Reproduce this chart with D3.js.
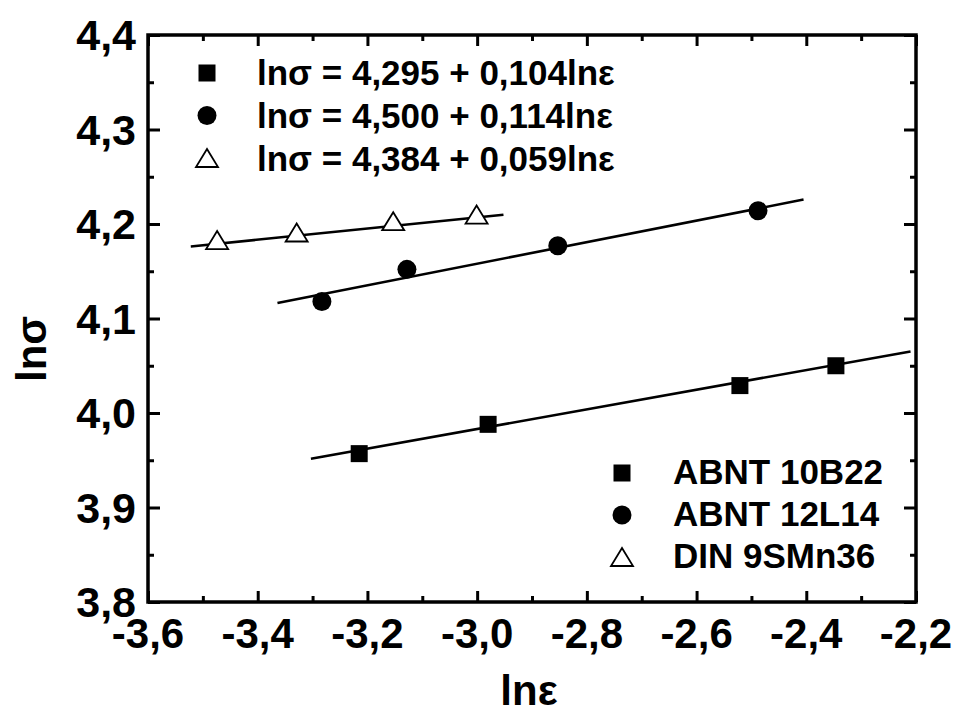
<!DOCTYPE html>
<html lang='en'>
<head>
<meta charset="utf-8">
<style>
body {
  margin: 0;
  background: #fff;
}
text {
  font-family: "Liberation Sans", Arial, sans-serif;
  font-weight: bold;
  fill: #000;
}
.axis path {
  display: none;
}
.axis line {
  stroke: #000;
  stroke-width: 3px;
}
.fit {
  fill: none;
  stroke: #000;
  stroke-width: 2.6px;
}
</style>
</head>
<body>
<svg width="957" height="713"></svg>

<script src="https://cdn.jsdelivr.net/npm/d3@7"></script>
<script>
  // data
  var eps10B22 = [-3.215, -2.980, -2.521, -2.346],
      sig10B22 = [3.957, 3.988, 4.029, 4.050],
      eps12L14 = [-3.283, -3.128, -2.853, -2.488],
      sig12L14 = [4.118, 4.152, 4.177, 4.214],
      eps9SMn36 = [-3.474, -3.329, -3.153, -3.001],
      sig9SMn36 = [4.183, 4.191, 4.203, 4.210];

  // linear fits: lnσ = a + b lnε
  var fitA = [4.295, 4.500, 4.384],
      fitB = [0.104, 0.114, 0.059],
      fitFrom = [-3.303, -3.364, -3.522],
      fitTo = [-2.21, -2.405, -2.952];

  var seriesNames = ["ABNT 10B22", "ABNT 12L14", "DIN 9SMn36"],
      fitLabels = ["lnσ = 4,295 + 0,104lnε", "lnσ = 4,500 + 0,114lnε", "lnσ = 4,384 + 0,059lnε"],
      symbols = ["square", "circle", "triangle"];

  var xMajor = [-3.6, -3.4, -3.2, -3.0, -2.8, -2.6, -2.4, -2.2],
      xMinor = [-3.5, -3.3, -3.1, -2.9, -2.7, -2.5, -2.3],
      yMajor = [3.8, 3.9, 4.0, 4.1, 4.2, 4.3, 4.4],
      yMinor = [3.85, 3.95, 4.05, 4.15, 4.25, 4.35];

  var series = [
    {eps: eps10B22, sig: sig10B22},
    {eps: eps12L14, sig: sig12L14},
    {eps: eps9SMn36, sig: sig9SMn36}
  ];

  var svg = d3.select("svg");
  var x0 = 148, x1 = 916, y0 = 35, y1 = 602;

  var x = d3.scaleLinear().domain([-3.6, -2.2]).range([x0, x1]),
      y = d3.scaleLinear().domain([3.8, 4.4]).range([y1, y0]);

  var fmt = d3.formatLocale({decimal: ",", thousands: ".", grouping: [3], currency: ["", ""], minus: "-"}).format(".1f");

  // ticks pointing inwards on all four sides
  function ticks(axis, vals, size, tr) {
    svg.append("g")
        .attr("class", "axis")
        .attr("transform", tr)
        .call(axis.tickValues(vals).tickSize(size).tickFormat(""));
  }
  ticks(d3.axisBottom(x), xMajor, -11, "translate(0," + y1 + ")");
  ticks(d3.axisBottom(x), xMinor, -6, "translate(0," + y1 + ")");
  ticks(d3.axisTop(x), xMajor, -11, "translate(0," + y0 + ")");
  ticks(d3.axisTop(x), xMinor, -6, "translate(0," + y0 + ")");
  ticks(d3.axisLeft(y), yMajor, -12, "translate(" + x0 + ",0)");
  ticks(d3.axisLeft(y), yMinor, -6, "translate(" + x0 + ",0)");
  ticks(d3.axisRight(y), yMajor, -12, "translate(" + x1 + ",0)");
  ticks(d3.axisRight(y), yMinor, -6, "translate(" + x1 + ",0)");

  svg.append("rect")
      .attr("x", x0).attr("y", y0)
      .attr("width", x1 - x0).attr("height", y1 - y0)
      .attr("fill", "none")
      .attr("stroke", "#000")
      .attr("stroke-width", 3.5);

  // tick labels
  svg.selectAll(".xlab")
    .data(xMajor)
    .enter().append("text")
      .attr("x", function(d) { return x(d); })
      .attr("y", y1 + 46)
      .attr("text-anchor", "middle")
      .style("font-size", "42px")
      .text(fmt);

  svg.selectAll(".ylab")
    .data(yMajor)
    .enter().append("text")
      .attr("x", x0 - 12)
      .attr("y", function(d) { return y(d) + 15; })
      .attr("text-anchor", "end")
      .style("font-size", "43px")
      .text(fmt);

  // axis titles
  svg.append("text")
      .attr("x", 529)
      .attr("y", 705)
      .attr("text-anchor", "middle")
      .style("font-size", "42px")
      .text("lnε");

  svg.append("text")
      .attr("transform", "translate(46,349) rotate(-90)")
      .attr("text-anchor", "middle")
      .style("font-size", "42px")
      .text("lnσ");

  // fit lines
  var line = d3.line()
      .x(function(d) { return x(d[0]); })
      .y(function(d) { return y(d[1]); });

  svg.selectAll(".fit")
    .data(fitA.map(function(a, i) {
      return [[fitFrom[i], a + fitB[i] * fitFrom[i]], [fitTo[i], a + fitB[i] * fitTo[i]]];
    }))
    .enter().append("path")
      .attr("class", "fit")
      .attr("d", line);

  function marker(g, kind) {
    if (kind == "square") {
      g.append("rect").attr("x", -8.5).attr("y", -8.5).attr("width", 17).attr("height", 17).attr("fill", "#000");
    } else if (kind == "circle") {
      g.append("circle").attr("r", 9.5).attr("fill", "#000");
    } else {
      g.append("path").attr("d", "M0,-9L11,9L-11,9Z")
          .attr("fill", "#fff").attr("stroke", "#000").attr("stroke-width", 1.8);
    }
  }

  series.forEach(function(s, i) {
    s.eps.forEach(function(e, j) {
      var g = svg.append("g").attr("transform", "translate(" + x(e) + "," + y(s.sig[j]) + ")");
      marker(g, symbols[i]);
    });
  });

  // legend with the fit equations (top left)
  fitLabels.forEach(function(t, i) {
    var g = svg.append("g").attr("transform", "translate(207," + (73 + i * 42.5) + ")");
    marker(g, symbols[i]);
    svg.append("text")
        .attr("x", 257)
        .attr("y", 85 + i * 43)
        .style("font-size", "35px")
        .text(t);
  });

  // legend with the steels (bottom right)
  seriesNames.forEach(function(t, i) {
    var g = svg.append("g").attr("transform", "translate(622," + (473 + i * 42) + ")");
    marker(g, symbols[i]);
    svg.append("text")
        .attr("x", 673)
        .attr("y", 484 + i * 42)
        .style("font-size", "35px")
        .text(t);
  });
</script>
</body>
</html>
